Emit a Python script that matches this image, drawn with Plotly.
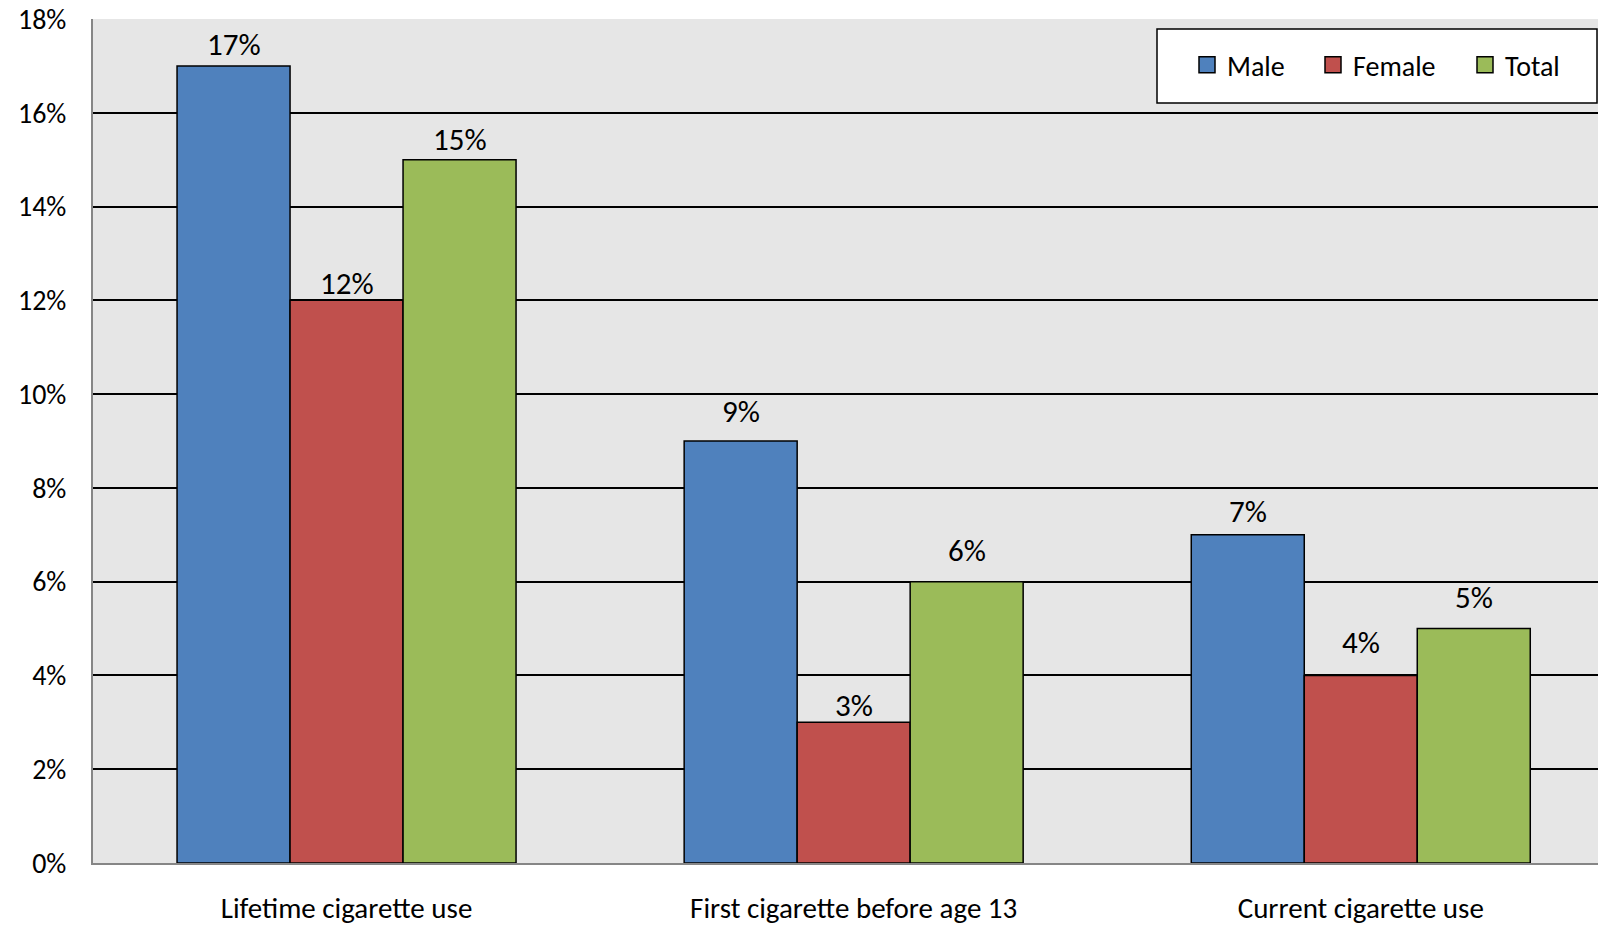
import plotly.graph_objects as go

categories = ["Lifetime cigarette use", "First cigarette before age 13", "Current cigarette use"]
series_names = ["Male", "Female", "Total"]
male = [17, 9, 7]
female = [12, 3, 4]
total = [15, 6, 5]
series_values = [male, female, total]
colors = ["#4F81BD", "#C0504D", "#9BBB59"]
y_ticks = [0, 2, 4, 6, 8, 10, 12, 14, 16, 18]
y_tick_labels = [f"{v}%" for v in y_ticks]

# style: extra pixel lift of each data label (per series, per category), as placed in the reference
label_lift = [[0, 8, 2], [-5, -5, 11], [-1, 10, 10]]

FONT = "Carlito, Calibri, Lato, sans-serif"
# page body has an 8px margin, so the figure is 8px smaller than the window
W, H = 1598, 918
ML, MR, MT, MB = 85, 0, 11, 63
PW, PH = W - ML - MR, H - MT - MB
BARGAP = 0.3315
X_RANGE = [-0.5, 2.4836]


def px_x(v):
    return (v - ML) / PW


def px_y(v):
    return (H - MB - v) / PH


fig = go.Figure()
for name, vals, col in zip(series_names, series_values, colors):
    fig.add_trace(go.Bar(
        name=name, x=categories, y=vals, showlegend=False,
        marker=dict(color=col, line=dict(color="#000000", width=1.5)),
    ))

# legend entries (one legend per item so each sits where the reference has it)
legend_ids = ["legend", "legend2", "legend3"]
legend_left = [1179, 1305, 1457]
for name, col, lid in zip(series_names, colors, legend_ids):
    fig.add_trace(go.Scatter(
        name=name, x=[None], y=[None], mode="markers", legend=lid,
        marker=dict(symbol="square", size=16, color=col, line=dict(color="#000000", width=1.5)),
    ))

# data labels as annotations above each bar
group_w = PW / (X_RANGE[1] - X_RANGE[0])
bar_w = group_w * (1 - BARGAP) / len(series_names)
for i, vals in enumerate(series_values):
    for j, (c, v) in enumerate(zip(categories, vals)):
        fig.add_annotation(
            x=c, y=v, text=f"{v}%", showarrow=False,
            xref="x", yref="y", xanchor="center", yanchor="bottom",
            xshift=(i - 1) * bar_w, yshift=1 + label_lift[i][j],
            font=dict(family=FONT, size=31, color="#000000"),
        )

# legend frame
fig.add_shape(type="rect", xref="paper", yref="paper",
              x0=px_x(1149), x1=px_x(1589), y0=px_y(95), y1=px_y(21),
              fillcolor="#FFFFFF", line=dict(color="#000000", width=1.5), layer="above")

legend_cfg = {}
for lid, lx in zip(legend_ids, legend_left):
    legend_cfg[lid] = dict(orientation="h", x=px_x(lx), xanchor="left",
                           y=px_y(57), yanchor="middle",
                           bgcolor="rgba(0,0,0,0)", borderwidth=0,
                           font=dict(family=FONT, size=28, color="#000000"))

fig.update_layout(
    width=W, height=H,
    margin=dict(l=ML, r=MR, t=MT, b=MB, pad=0, autoexpand=False),
    paper_bgcolor="#FFFFFF", plot_bgcolor="#E6E6E6",
    barmode="group", bargap=BARGAP, bargroupgap=0,
    font=dict(family=FONT, size=29, color="#000000"),
    showlegend=True,
    xaxis=dict(range=X_RANGE, showgrid=False, showline=True, linecolor="#868686", linewidth=2,
               automargin=False,
               ticks="", ticklabelstandoff=18, tickfont=dict(family=FONT, size=29)),
    yaxis=dict(range=[0, 18], tickvals=y_ticks, ticktext=y_tick_labels,
               showgrid=True, gridcolor="#000000", gridwidth=1.5, zeroline=False,
               showline=True, linecolor="#868686", linewidth=2, mirror=False,
               automargin=False,
               ticks="", ticklabelstandoff=19, ticklabeloverflow="allow",
               tickfont=dict(family=FONT, size=28)),
    **legend_cfg,
)

fig.write_html("out.html")
